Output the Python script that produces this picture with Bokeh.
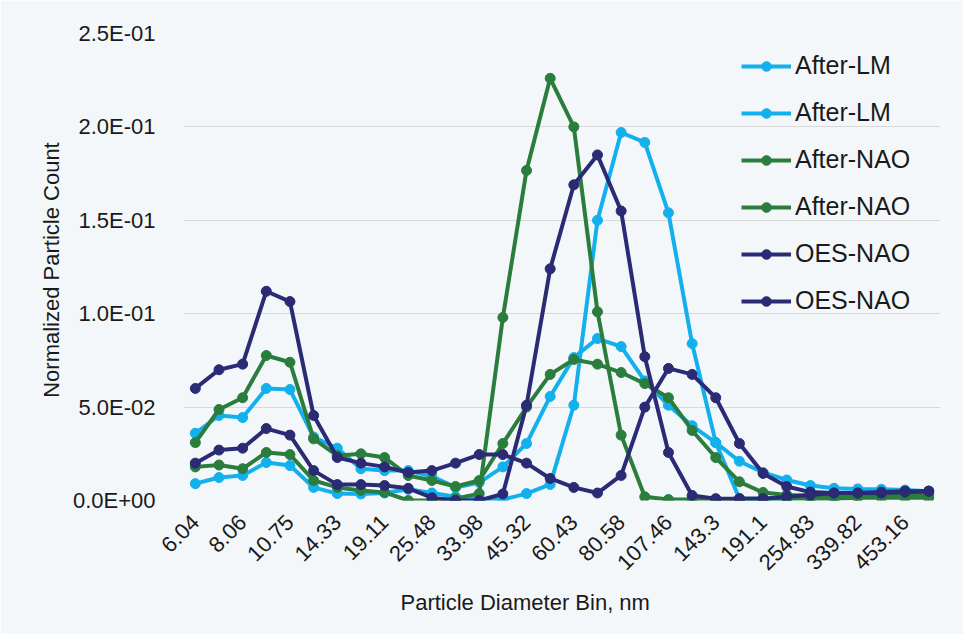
from bokeh.plotting import figure
from bokeh.models import (Legend, LegendItem, FixedTicker, CustomJSTickFormatter,
                          Range1d, Title)
from bokeh.embed import file_html
from bokeh.resources import INLINE

bins = ["6.04", "6.98", "8.06", "9.31", "10.75", "12.41", "14.33", "16.55",
        "19.11", "22.07", "25.48", "29.43", "33.98", "39.24", "45.32", "52.33",
        "60.43", "69.78", "80.58", "93.06", "107.46", "124.09", "143.3", "165.48",
        "191.1", "220.67", "254.83", "294.27", "339.82", "392.42", "453.16", "523.3"]

after_lm_1 = [0.036, 0.0455, 0.0444, 0.060, 0.0594, 0.034, 0.028, 0.017, 0.016, 0.016,
              0.013, 0.007, 0.0096, 0.018, 0.0305, 0.0557, 0.0765, 0.0867, 0.0824, 0.064,
              0.051, 0.040, 0.031, 0.021, 0.015, 0.011, 0.008, 0.0065, 0.0062, 0.006,
              0.0056, 0.005]
after_lm_2 = [0.009, 0.0123, 0.0134, 0.0203, 0.0187, 0.007, 0.0037, 0.0035, 0.004, 0.006,
              0.004, 0.002, 0.001, 0.0005, 0.0037, 0.0086, 0.051, 0.150, 0.197, 0.1917,
              0.154, 0.084, 0.031, 0.001, 0.001, 0.001, 0.002, 0.002, 0.003, 0.003,
              0.004, 0.004]
after_nao_1 = [0.031, 0.0487, 0.055, 0.0776, 0.074, 0.033, 0.024, 0.025, 0.023, 0.0134,
               0.0107, 0.0075, 0.0107, 0.0305, 0.050, 0.0675, 0.0755, 0.073, 0.0685, 0.0626,
               0.055, 0.0375, 0.023, 0.010, 0.0043, 0.003, 0.0025, 0.0025, 0.0025, 0.003,
               0.003, 0.003]
after_nao_2 = [0.018, 0.019, 0.017, 0.0257, 0.0246, 0.0107, 0.007, 0.0054, 0.0043, 0.0,
               0.0, 0.001, 0.0037, 0.098, 0.1767, 0.226, 0.200, 0.101, 0.035, 0.002,
               0.0005, 0.0005, 0.0005, 0.001, 0.001, 0.001, 0.001, 0.001, 0.0015, 0.0015,
               0.0015, 0.0015]
oes_nao_1 = [0.060, 0.070, 0.073, 0.112, 0.1065, 0.0455, 0.023, 0.020, 0.018, 0.015,
             0.016, 0.020, 0.0246, 0.0246, 0.020, 0.0118, 0.007, 0.004, 0.0134, 0.050,
             0.0707, 0.0675, 0.055, 0.0305, 0.0145, 0.0075, 0.0045, 0.004, 0.004, 0.004,
             0.0045, 0.005]
oes_nao_2 = [0.020, 0.027, 0.028, 0.0385, 0.035, 0.016, 0.0085, 0.0085, 0.008, 0.0065,
             0.0015, 0.0, 0.0, 0.0035, 0.051, 0.124, 0.169, 0.185, 0.155, 0.077,
             0.0257, 0.0027, 0.001, 0.001, 0.001, 0.002, 0.003, 0.004, 0.004, 0.0045,
             0.005, 0.005]

series = [("After-LM", after_lm_1, "#12b0ec"),
          ("After-LM", after_lm_2, "#12b0ec"),
          ("After-NAO", after_nao_1, "#2a7d3c"),
          ("After-NAO", after_nao_2, "#2a7d3c"),
          ("OES-NAO", oes_nao_1, "#2b2a74"),
          ("OES-NAO", oes_nao_2, "#2b2a74")]

x = list(range(len(bins)))
BG = "#f4f7f9"
FONT = "Liberation Sans"

p = figure(width=963, height=634, output_backend="svg", toolbar_location=None,
           x_range=Range1d(-0.5, len(bins) - 0.5), y_range=Range1d(0, 0.25),
           min_border_left=183, min_border_right=23, min_border_top=33,
           min_border_bottom=134, background_fill_color=BG, border_fill_color=BG)
p.outline_line_color = None

items = []
for name, vals, col in series:
    r1 = p.line(x, vals, line_color=col, line_width=4)
    r2 = p.scatter(x, vals, size=10, fill_color=col, line_color=col)
    items.append(LegendItem(label=name, renderers=[r1, r2]))

# axes
p.xaxis.ticker = FixedTicker(ticks=x[::2])
p.xaxis.formatter = CustomJSTickFormatter(args=dict(labels=bins),
                                          code="return labels[Math.round(tick)];")
p.xaxis.major_label_orientation = 0.785398
p.yaxis.ticker = FixedTicker(ticks=[0, 0.05, 0.1, 0.15, 0.2, 0.25])
p.yaxis.formatter = CustomJSTickFormatter(code="""
const s = tick.toExponential(1).toUpperCase();
const parts = s.split('E');
const e = parts[1];
const sign = e[0];
const d = e.slice(1).padStart(2, '0');
return parts[0] + 'E' + sign + d;
""")
for ax in (p.xaxis[0], p.yaxis[0]):
    ax.axis_line_color = None
    ax.major_tick_line_color = None
    ax.minor_tick_line_color = None
    ax.major_label_text_font = FONT
    ax.major_label_text_color = "#1a1a1a"
p.xaxis.major_label_text_font_size = "22px"
p.yaxis.major_label_text_font_size = "22px"
p.xaxis.major_label_standoff = 12
p.yaxis.major_label_standoff = 22

p.yaxis.axis_label = "Normalized  Particle Count"
p.yaxis.axis_label_text_font = FONT
p.yaxis.axis_label_text_font_size = "22px"
p.yaxis.axis_label_text_font_style = "normal"
p.yaxis.axis_label_text_color = "#1a1a1a"
p.yaxis.axis_label_standoff = 6

xtitle = Title(text="Particle Diameter Bin, nm", align="left", offset=217,
               text_font=FONT, text_font_size="22px", text_font_style="normal",
               text_color="#1a1a1a", standoff=17)
p.add_layout(xtitle, "below")

p.xgrid.grid_line_color = None
p.ygrid.grid_line_color = "#d9d9d9"
p.ygrid.grid_line_width = 1

legend = Legend(items=items, location=(558, 185), orientation="vertical",
                label_text_font=FONT, label_text_font_size="25px",
                label_text_color="#1a1a1a", glyph_width=50, glyph_height=24,
                label_height=24, spacing=18, padding=0, margin=0,
                label_standoff=4, border_line_color=None,
                background_fill_alpha=0)
p.add_layout(legend, "center")

html = file_html(p, INLINE)
html = html.replace("<body>", '<body style="margin:0;background:' + BG + ';">', 1)
open("out.html", "w").write(html)
